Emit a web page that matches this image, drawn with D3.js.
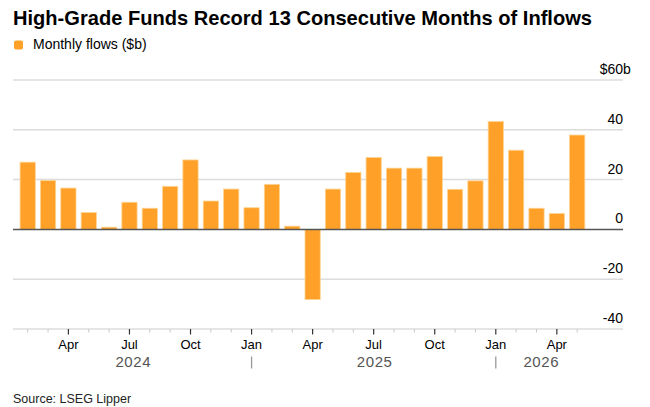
<!DOCTYPE html>
<html>
<head>
<meta charset="utf-8">
<script src="https://cdn.jsdelivr.net/npm/d3@7"></script>
<style>
  html, body { margin: 0; padding: 0; background: #fff; }
  svg { display: block; font-family: "Liberation Sans", Arial, sans-serif; }
</style>
</head>
<body>
<svg id="chart" width="650" height="407"></svg>
<script>
const months = ["2024-02","2024-03","2024-04","2024-05","2024-06","2024-07","2024-08","2024-09","2024-10","2024-11","2024-12",
  "2025-01","2025-02","2025-03","2025-04","2025-05","2025-06","2025-07","2025-08","2025-09","2025-10","2025-11","2025-12",
  "2026-01","2026-02","2026-03","2026-04","2026-05"];
const flows = [27.0,19.6,16.6,6.8,0.9,10.9,8.5,17.3,27.9,11.4,16.2,
  8.7,18.1,1.3,-28.2,16.2,22.9,28.9,24.6,24.6,29.3,16.1,19.5,
  43.3,31.8,8.5,6.4,37.9];
const yTicks = [-40,-20,0,20,40,60];
const monthNames = ["Jan","Feb","Mar","Apr","May","Jun","Jul","Aug","Sep","Oct","Nov","Dec"];
const majorMonths = ["Jan","Apr","Jul","Oct"];
const years = ["2024","2025","2026"];

const svg = d3.select("#chart");
const left = 13, right = 623;

const x = d3.scalePoint().domain(months).range([27.7, 577.2]);
const bw = x.step() * 0.75;
const y = d3.scaleLinear().domain([-40, 60]).range([329, 80]);

// Title
const title = svg.append("text").attr("x", 13).attr("y", 25)
  .attr("font-size", 21).attr("font-weight", "bold").attr("fill", "#000")
  .text("High-Grade Funds Record 13 Consecutive Months of Inflows");
const tl = title.node().getComputedTextLength();
if (Math.abs(tl - 579) > 2) title.attr("textLength", 579).attr("lengthAdjust", "spacingAndGlyphs");

// Legend
svg.append("rect").attr("x", 14).attr("y", 40.5).attr("width", 9).attr("height", 9)
  .attr("rx", 2).attr("fill", "#ffa028");
svg.append("text").attr("x", 33).attr("y", 48.5).attr("font-size", 14).attr("fill", "#000")
  .text("Monthly flows ($b)");

// Gridlines
svg.append("g").selectAll("line").data(yTicks.filter(d => d !== 0)).join("line")
  .attr("x1", left).attr("x2", right)
  .attr("y1", d => y(d)).attr("y2", d => y(d))
  .attr("stroke", "#dcdcdc").attr("stroke-width", 1.5);

// Y labels
const yl = svg.append("g").attr("font-size", 14).attr("fill", "#000");
yTicks.forEach(d => {
  yl.append("text").attr("x", right).attr("y", y(d) - 6).attr("text-anchor", "end")
    .text(d === 60 ? "$" + d : d);
  if (d === 60) yl.append("text").attr("x", right).attr("y", y(d) - 6).text("b");
});

// Bars
svg.append("g").selectAll("rect").data(months).join("rect")
  .attr("x", d => x(d) - bw / 2)
  .attr("width", bw)
  .attr("y", (d, i) => y(Math.max(0, flows[i])))
  .attr("height", (d, i) => Math.abs(y(flows[i]) - y(0)))
  .attr("fill", "#ffa028")
  .attr("stroke", "#ffd594").attr("stroke-width", 0.8);

// Zero line
svg.append("line").attr("x1", left).attr("x2", right).attr("y1", y(0)).attr("y2", y(0))
  .attr("stroke", "#555").attr("stroke-width", 1.5);

// X axis ticks
const parse = d3.timeParse("%Y-%m");
const mName = d => monthNames[parse(d).getMonth()];
const isMajor = d => majorMonths.includes(mName(d));
const axisY = y(-40);
svg.append("g").selectAll("line").data(months).join("line")
  .attr("x1", d => x(d)).attr("x2", d => x(d))
  .attr("y1", axisY).attr("y2", d => axisY + (isMajor(d) ? 5.5 : 3.5))
  .attr("stroke", d => isMajor(d) ? "#333" : "#c8c8c8")
  .attr("stroke-width", d => isMajor(d) ? 1.2 : 1);

svg.append("g").attr("font-size", 13).attr("fill", "#000").attr("text-anchor", "middle")
  .selectAll("text").data(months.filter(isMajor)).join("text")
  .attr("x", d => x(d)).attr("y", 348.5).text(mName);

// Year separators and labels
const janX = months.filter(d => mName(d) === "Jan").map(d => x(d));
svg.append("g").selectAll("line").data(janX).join("line")
  .attr("x1", d => d).attr("x2", d => d).attr("y1", 356.5).attr("y2", 368.5)
  .attr("stroke", "#999").attr("stroke-width", 1.3);
const bounds = [left, ...janX, x(months[months.length - 1]) + bw / 2];
svg.append("g").attr("font-size", 15).attr("fill", "#555").attr("text-anchor", "middle")
  .attr("letter-spacing", 0.6)
  .selectAll("text").data(years).join("text")
  .attr("x", (d, i) => (bounds[i] + bounds[i + 1]) / 2 + 1).attr("y", 366.5).text(d => d);

// Source
svg.append("text").attr("x", 13).attr("y", 402.5).attr("font-size", 12.5).attr("fill", "#222")
  .text("Source: LSEG Lipper");
</script>
</body>
</html>
